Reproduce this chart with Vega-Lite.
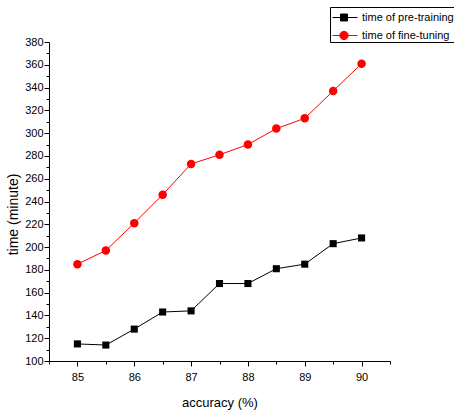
{
  "$schema": "https://vega.github.io/schema/vega-lite/v6.json",
  "width": 341,
  "height": 319,
  "autosize": {"type": "none"},
  "padding": {"left": 49, "top": 42, "right": 64, "bottom": 52},
  "background": "white",
  "config": {
    "view": {"stroke": null},
    "axis": {
      "grid": false,
      "domainColor": "black",
      "domainWidth": 1,
      "tickColor": "black",
      "tickWidth": 1,
      "labelColor": "black",
      "labelFont": "Liberation Sans",
      "labelFontSize": 11,
      "labelOverlap": false,
      "titleColor": "black",
      "titleFontWeight": "normal"
    },
    "legend": {"title": null, "orient": "none", "legendX": 281, "legendY": -35, "symbolSize": 400, "symbolStrokeWidth": 1, "symbolOpacity": 1, "labelFont": "Liberation Sans", "labelFontSize": 11, "labelColor": "black", "strokeColor": "black", "fillColor": "white", "padding": 0, "labelOffset": 11, "rowPadding": 2}
  },
  "data": {
    "values": [
      {"accuracy": 85, "time": 115, "series": "time of pre-training"},
      {"accuracy": 85.5, "time": 114, "series": "time of pre-training"},
      {"accuracy": 86, "time": 128, "series": "time of pre-training"},
      {"accuracy": 86.5, "time": 143, "series": "time of pre-training"},
      {"accuracy": 87, "time": 144, "series": "time of pre-training"},
      {"accuracy": 87.5, "time": 168, "series": "time of pre-training"},
      {"accuracy": 88, "time": 168, "series": "time of pre-training"},
      {"accuracy": 88.5, "time": 181, "series": "time of pre-training"},
      {"accuracy": 89, "time": 185, "series": "time of pre-training"},
      {"accuracy": 89.5, "time": 203, "series": "time of pre-training"},
      {"accuracy": 90, "time": 208, "series": "time of pre-training"},
      {"accuracy": 85, "time": 185, "series": "time of fine-tuning"},
      {"accuracy": 85.5, "time": 197, "series": "time of fine-tuning"},
      {"accuracy": 86, "time": 221, "series": "time of fine-tuning"},
      {"accuracy": 86.5, "time": 246, "series": "time of fine-tuning"},
      {"accuracy": 87, "time": 273, "series": "time of fine-tuning"},
      {"accuracy": 87.5, "time": 281, "series": "time of fine-tuning"},
      {"accuracy": 88, "time": 290, "series": "time of fine-tuning"},
      {"accuracy": 88.5, "time": 304, "series": "time of fine-tuning"},
      {"accuracy": 89, "time": 313, "series": "time of fine-tuning"},
      {"accuracy": 89.5, "time": 337, "series": "time of fine-tuning"},
      {"accuracy": 90, "time": 361, "series": "time of fine-tuning"}
    ]
  },
  "encoding": {
    "x": {
      "field": "accuracy",
      "type": "quantitative",
      "scale": {"domain": [84.5, 90.5], "nice": false, "zero": false},
      "axis": {
        "title": "accuracy (%)",
        "titleFont": "Liberation Sans",
        "titleFontSize": 13,
        "titlePadding": 14,
        "values": [84.5, 85, 85.5, 86, 86.5, 87, 87.5, 88, 88.5, 89, 89.5, 90, 90.5],
        "labelExpr": "(datum.value % 1 == 0) ? format(datum.value, 'd') : ''",
        "tickSize": {"condition": {"test": "datum.value % 1 == 0", "value": 5}, "value": 3},
        "labelPadding": 5
      }
    },
    "y": {
      "field": "time",
      "type": "quantitative",
      "scale": {"domain": [100, 380], "nice": false, "zero": false},
      "axis": {
        "title": "time (minute)",
        "titleFont": "Liberation Sans",
        "titleFontSize": 14,
        "titleX": -29,
        "titleY": 172,
        "values": [100, 110, 120, 130, 140, 150, 160, 170, 180, 190, 200, 210, 220, 230, 240, 250, 260, 270, 280, 290, 300, 310, 320, 330, 340, 350, 360, 370, 380],
        "labelExpr": "(datum.value % 20 == 0) ? datum.label : ''",
        "tickSize": {"condition": {"test": "datum.value % 20 == 0", "value": 5}, "value": 3},
        "labelPadding": 1
      }
    },
    "color": {
      "field": "series",
      "type": "nominal",
      "scale": {"domain": ["time of pre-training", "time of fine-tuning"], "range": ["black", "red"]}
    }
  },
  "layer": [
    {
      "mark": {"type": "point", "filled": true, "opacity": 0, "strokeWidth": 1},
      "encoding": {
        "stroke": {
          "field": "series",
          "type": "nominal",
          "scale": {"domain": ["time of pre-training", "time of fine-tuning"], "range": ["black", "red"]}
        },
        "shape": {
          "field": "series",
          "type": "nominal",
          "scale": {"domain": ["time of pre-training", "time of fine-tuning"], "range": ["M-0.8,0H1.7M0,-0.35H0.7V0.35H0Z", "M-0.8,0H1.7M0.77,0A0.42,0.42 0 1,1 -0.07,0A0.42,0.42 0 1,1 0.77,0Z"]}
        }
      }
    },
    {
      "mark": {"type": "line", "strokeWidth": 1}
    },
    {
      "transform": [{"filter": "datum.series == 'time of pre-training'"}],
      "mark": {"type": "point", "shape": "square", "filled": true, "opacity": 1, "size": 50}
    },
    {
      "transform": [{"filter": "datum.series == 'time of fine-tuning'"}],
      "mark": {"type": "point", "shape": "circle", "filled": true, "opacity": 1, "size": 72}
    }
  ]
}
